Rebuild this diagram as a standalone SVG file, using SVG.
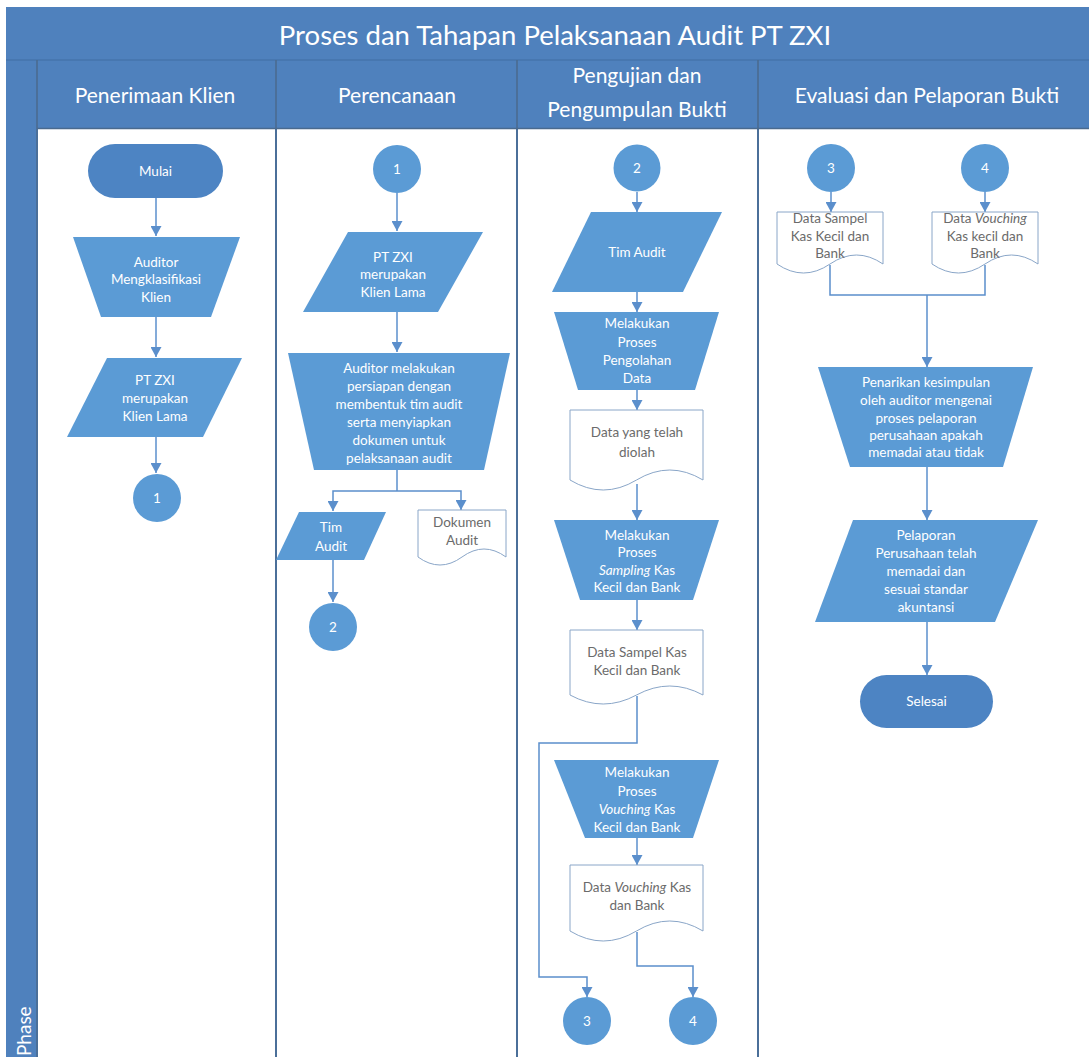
<svg xmlns="http://www.w3.org/2000/svg" width="1089" height="1057" viewBox="0 0 1089 1057">
<defs>
<marker id="arr" markerUnits="userSpaceOnUse" markerWidth="11" markerHeight="11" refX="10" refY="5.5" orient="auto">
<path d="M0,0 L10,5.5 L0,11 Z" fill="#5b8fcc"/>
</marker>
<style>
.bg{fill:#4f81bd}
.lane{fill:#ffffff}
.div{stroke:#4a6a8e;stroke-width:1.5;fill:none}
.hdiv{stroke:#416fa3;stroke-width:1.2;fill:none}
.shape{fill:#5b9bd5}
.term{fill:#4d84c3}
.doc{fill:#ffffff;stroke:#8aa6c8;stroke-width:1}
.t{font-family:Lato,"Open Sans",sans-serif;font-size:13.5px;fill:#ffffff;text-anchor:middle}
.dt{fill:#6b6b6b}
.hdr{font-family:Lato,"Open Sans",sans-serif;font-size:21px;fill:#ffffff;text-anchor:middle}
.conn{fill:none;stroke:#5b8fcc;stroke-width:1.5}
.i{font-style:italic}
</style>
</defs>

<!-- pool background -->
<rect class="bg" x="6" y="7" width="1083" height="1050"/>
<line class="hdiv" x1="6" y1="60" x2="1089" y2="60"/>
<text x="555" y="45" font-family="Lato,'Open Sans',sans-serif" font-size="27.5" fill="#ffffff" text-anchor="middle">Proses dan Tahapan Pelaksanaan Audit PT ZXI</text>

<!-- lanes -->
<rect class="lane" x="38" y="129" width="237" height="928"/>
<rect class="lane" x="277" y="129" width="239" height="928"/>
<rect class="lane" x="518" y="129" width="239" height="928"/>
<rect class="lane" x="759" y="129" width="330" height="928"/>
<line class="div" x1="37" y1="60" x2="37" y2="1057"/>
<line class="div" x1="276" y1="60" x2="276" y2="1057"/>
<line class="div" x1="517" y1="60" x2="517" y2="1057"/>
<line class="div" x1="758" y1="60" x2="758" y2="1057"/>
<line class="div" x1="37" y1="128.5" x2="1089" y2="128.5"/>

<text class="hdr" x="155" y="103">Penerimaan Klien</text>
<text class="hdr" x="397" y="103">Perencanaan</text>
<text class="hdr" x="637" y="83">Pengujian dan</text>
<text class="hdr" x="637" y="117">Pengumpulan Bukti</text>
<text class="hdr" x="927" y="103">Evaluasi dan Pelaporan Bukti</text>
<text x="31" y="1056" font-family="Lato,'Open Sans',sans-serif" font-size="19" fill="#ffffff" transform="rotate(-90 31 1056)">Phase</text>

<!-- connectors -->
<g id="connectors">
<path class="conn" d="M156,198 V236" marker-end="url(#arr)"/>
<path class="conn" d="M156,317 V357" marker-end="url(#arr)"/>
<path class="conn" d="M156,437 V473" marker-end="url(#arr)"/>
<path class="conn" d="M397,193 V231" marker-end="url(#arr)"/>
<path class="conn" d="M397,312 V352" marker-end="url(#arr)"/>
<path class="conn" d="M397,470 V491"/>
<path class="conn" d="M397,491 H333 V511" marker-end="url(#arr)"/>
<path class="conn" d="M397,491 H461 V510" marker-end="url(#arr)"/>
<path class="conn" d="M333,560 V602" marker-end="url(#arr)"/>
<path class="conn" d="M637,192 V212" marker-end="url(#arr)"/>
<path class="conn" d="M637,292 V312" marker-end="url(#arr)"/>
<path class="conn" d="M637,390 V410" marker-end="url(#arr)"/>
<path class="conn" d="M637,484 V520" marker-end="url(#arr)"/>
<path class="conn" d="M637,600 V630" marker-end="url(#arr)"/>
<path class="conn" d="M637,696 V743 H539 V977 H587 V997" marker-end="url(#arr)"/>
<path class="conn" d="M637,838 V865" marker-end="url(#arr)"/>
<path class="conn" d="M637,932 V966 H693 V997" marker-end="url(#arr)"/>
<path class="conn" d="M831,192 V212" marker-end="url(#arr)"/>
<path class="conn" d="M985,192 V212" marker-end="url(#arr)"/>
<path class="conn" d="M830,265 V295 H985 V265"/>
<path class="conn" d="M927,295 V367" marker-end="url(#arr)"/>
<path class="conn" d="M927,467 V520" marker-end="url(#arr)"/>
<path class="conn" d="M927,622 V675" marker-end="url(#arr)"/>
</g>

<!-- Lane 1 -->
<g id="mulai">
<rect class="term" x="88" y="144" width="135" height="54" rx="27"/>
<text class="t" x="155.5" y="176">Mulai</text>
</g>
<g id="auditor-klasifikasi">
<polygon class="shape" points="73,237 240,237 211,317 101,317"/>
<text class="t" x="156" y="267">Auditor</text>
<text class="t" x="156" y="284">Mengklasifikasi</text>
<text class="t" x="156" y="302">Klien</text>
</g>
<g id="ptzxi-1">
<polygon class="shape" points="107,358 242,358 203,437 67,437"/>
<text class="t" x="155" y="385">PT ZXI</text>
<text class="t" x="155" y="403">merupakan</text>
<text class="t" x="155" y="421">Klien Lama</text>
</g>
<g id="c1-out">
<circle class="shape" cx="157" cy="498" r="24"/>
<text class="t" x="157" y="503">1</text>
</g>

<!-- Lane 2 -->
<g id="c1-in">
<circle class="shape" cx="397" cy="169" r="24"/>
<text class="t" x="397" y="174">1</text>
</g>
<g id="ptzxi-2">
<polygon class="shape" points="348,232 483,232 438,312 303,312"/>
<text class="t" x="393" y="262">PT ZXI</text>
<text class="t" x="393" y="279">merupakan</text>
<text class="t" x="393" y="297">Klien Lama</text>
</g>
<g id="persiapan">
<polygon class="shape" points="288,353 510,353 484,470 314,470"/>
<text class="t" x="399" y="373">Auditor melakukan</text>
<text class="t" x="399" y="391">persiapan dengan</text>
<text class="t" x="399" y="409">membentuk tim audit</text>
<text class="t" x="399" y="427">serta menyiapkan</text>
<text class="t" x="399" y="445">dokumen untuk</text>
<text class="t" x="399" y="463">pelaksanaan audit</text>
</g>
<g id="tim-audit-1">
<polygon class="shape" points="299,512 386,512 364,560 276,560"/>
<text class="t" x="331" y="532">Tim</text>
<text class="t" x="331" y="551">Audit</text>
</g>
<g id="dokumen-audit">
<path class="doc" d="M418,510 H506 V557 Q484,541 462,557 T418,557 Z"/>
<text class="t dt" x="462" y="527">Dokumen</text>
<text class="t dt" x="462" y="545">Audit</text>
</g>
<g id="c2-out">
<circle class="shape" cx="333" cy="627" r="24"/>
<text class="t" x="333" y="632">2</text>
</g>

<!-- Lane 3 -->
<g id="c2-in">
<circle class="shape" cx="637" cy="168" r="23.5"/>
<text class="t" x="637" y="173">2</text>
</g>
<g id="tim-audit-2">
<polygon class="shape" points="591,212 722,212 683,292 552,292"/>
<text class="t" x="637" y="257">Tim Audit</text>
</g>
<g id="pengolahan">
<polygon class="shape" points="554,312 719,312 695,390 578,390"/>
<text class="t" x="637" y="328">Melakukan</text>
<text class="t" x="637" y="347">Proses</text>
<text class="t" x="637" y="365">Pengolahan</text>
<text class="t" x="637" y="383">Data</text>
</g>
<g id="data-diolah">
<path class="doc" d="M570,410 H703 V480 Q669.75,460 636.5,480 T570,480 Z"/>
<text class="t dt" x="637" y="437">Data yang telah</text>
<text class="t dt" x="637" y="457">diolah</text>
</g>
<g id="sampling">
<polygon class="shape" points="554,520 719,520 693,600 580,600"/>
<text class="t" x="637" y="540">Melakukan</text>
<text class="t" x="637" y="557">Proses</text>
<text class="t" x="637" y="575"><tspan class="i">Sampling</tspan> Kas</text>
<text class="t" x="637" y="592">Kecil dan Bank</text>
</g>
<g id="data-sampel-1">
<path class="doc" d="M570,630 H703 V695 Q669.75,677 636.5,695 T570,695 Z"/>
<text class="t dt" x="637" y="657">Data Sampel Kas</text>
<text class="t dt" x="637" y="675">Kecil dan Bank</text>
</g>
<g id="vouching">
<polygon class="shape" points="554,760 719,760 693,838 585,838"/>
<text class="t" x="637" y="777">Melakukan</text>
<text class="t" x="637" y="796">Proses</text>
<text class="t" x="637" y="814"><tspan class="i">Vouching</tspan> Kas</text>
<text class="t" x="637" y="832">Kecil dan Bank</text>
</g>
<g id="data-vouching-1">
<path class="doc" d="M570,865 H703 V931 Q669.75,911 636.5,931 T570,931 Z"/>
<text class="t dt" x="637" y="892">Data <tspan class="i">Vouching</tspan> Kas</text>
<text class="t dt" x="637" y="910">dan Bank</text>
</g>
<g id="c3-out">
<circle class="shape" cx="587" cy="1021" r="24"/>
<text class="t" x="587" y="1026">3</text>
</g>
<g id="c4-out">
<circle class="shape" cx="693" cy="1021" r="24"/>
<text class="t" x="693" y="1026">4</text>
</g>

<!-- Lane 4 -->
<g id="c3-in">
<circle class="shape" cx="831" cy="168" r="24"/>
<text class="t" x="831" y="173">3</text>
</g>
<g id="c4-in">
<circle class="shape" cx="985" cy="168" r="24"/>
<text class="t" x="985" y="173">4</text>
</g>
<g id="data-sampel-2">
<path class="doc" d="M777,212 H883 V264 Q856.5,246 830,264 T777,264 Z"/>
<text class="t dt" x="830" y="223">Data Sampel</text>
<text class="t dt" x="830" y="241">Kas Kecil dan</text>
<text class="t dt" x="830" y="258">Bank</text>
</g>
<g id="data-vouching-2">
<path class="doc" d="M932,212 H1038 V264 Q1011.5,246 985,264 T932,264 Z"/>
<text class="t dt" x="985" y="223">Data <tspan class="i">Vouching</tspan></text>
<text class="t dt" x="985" y="241">Kas kecil dan</text>
<text class="t dt" x="985" y="258">Bank</text>
</g>
<g id="penarikan">
<polygon class="shape" points="818,367 1033,367 1003,467 850,467"/>
<text class="t" x="926" y="387">Penarikan kesimpulan</text>
<text class="t" x="926" y="405">oleh auditor mengenai</text>
<text class="t" x="926" y="423">proses pelaporan</text>
<text class="t" x="926" y="440">perusahaan apakah</text>
<text class="t" x="926" y="457">memadai atau tidak</text>
</g>
<g id="pelaporan">
<polygon class="shape" points="853,520 1038,520 995,622 815,622"/>
<text class="t" x="926" y="540">Pelaporan</text>
<text class="t" x="926" y="558">Perusahaan telah</text>
<text class="t" x="926" y="576">memadai dan</text>
<text class="t" x="926" y="594">sesuai standar</text>
<text class="t" x="926" y="612">akuntansi</text>
</g>
<g id="selesai">
<rect class="term" x="860" y="675" width="133" height="53" rx="26.5"/>
<text class="t" x="926.5" y="706">Selesai</text>
</g>
</svg>
